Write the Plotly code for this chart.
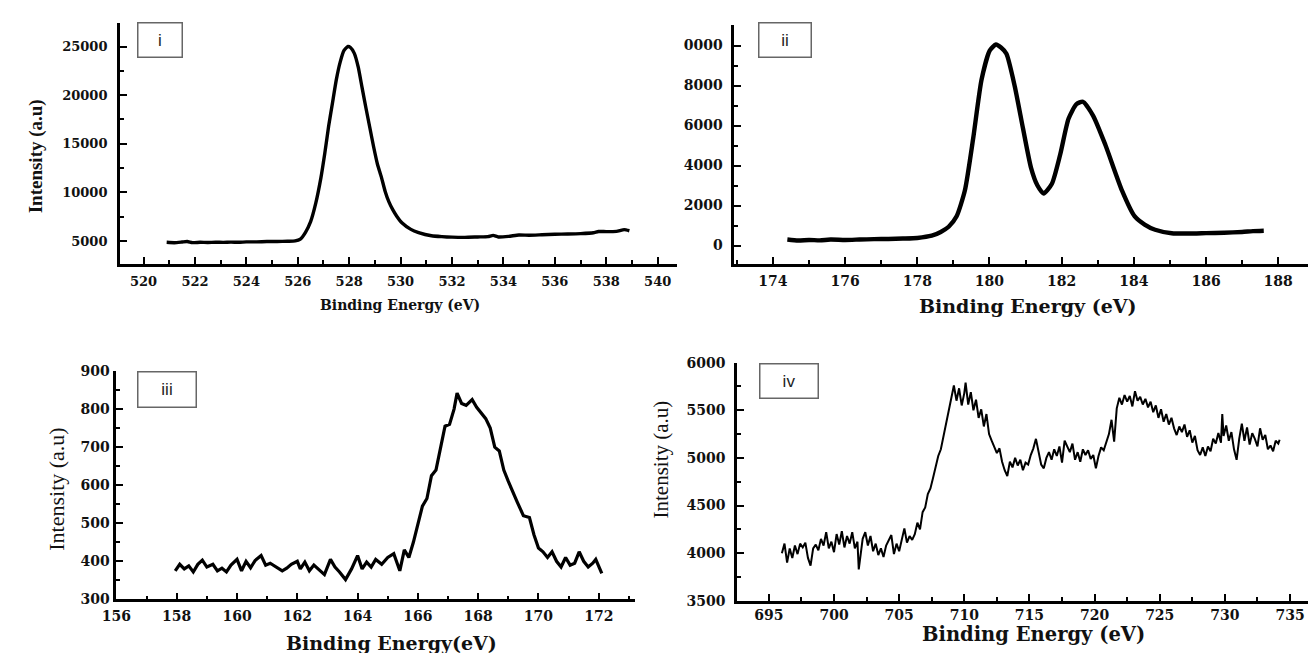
import plotly.graph_objects as go

W, H = 1316, 653
OFF = 8  # default page body margin of the written html

# ---------------- data ----------------
# Panel i : O 1s
be_i = [520.9, 521.2, 521.5, 521.7, 521.9, 522.2, 522.5, 522.8, 523.1, 523.4, 523.7, 524.0,
        524.4, 524.8, 525.2, 525.6, 525.9, 526.1, 526.3, 526.5, 526.7, 526.9, 527.05, 527.2,
        527.35, 527.5, 527.65, 527.8, 527.95, 528.05, 528.2, 528.35, 528.5, 528.65, 528.8,
        528.95, 529.1, 529.25, 529.4, 529.55, 529.7, 529.85, 530.05, 530.4, 530.7, 531.2,
        531.6, 532.0, 532.5, 533.0, 533.4, 533.6, 533.8, 534.2, 534.6, 535.0, 535.5, 536.0,
        536.5, 537.0, 537.5, 537.7, 538.0, 538.4, 538.7, 538.9]
int_i = [4870, 4830, 4900, 4950, 4840, 4870, 4850, 4880, 4860, 4890, 4870, 4910,
         4920, 4950, 4960, 4980, 5010, 5200, 5900, 7000, 8900, 11500, 14000, 16800,
         19200, 21600, 23400, 24600, 25000, 24900, 24300, 22900, 20800, 18700, 16700,
         14700, 12900, 11600, 10100, 9000, 8200, 7550, 6880, 6200, 5870, 5540,
         5450, 5400, 5380, 5420, 5450, 5580, 5420, 5480, 5620, 5600, 5650, 5700,
         5720, 5760, 5850, 5980, 5970, 6000, 6170, 6060]

# Panel ii : Ca 2p
be_ii = [174.4, 174.7, 175.0, 175.3, 175.6, 176.0, 176.4, 176.8, 177.2, 177.6, 178.0, 178.4,
         178.65, 178.87, 179.09, 179.32, 179.55, 179.78, 180.01, 180.18, 180.32, 180.47,
         180.7, 180.93, 181.15, 181.33, 181.5, 181.73, 181.96, 182.19, 182.41, 182.59,
         182.87, 183.21, 183.67, 184.02, 184.3, 184.59, 185.05, 185.5, 186.0, 186.5,
         187.0, 187.3, 187.6]
int_ii = [300, 250, 280, 260, 300, 280, 300, 320, 330, 350, 380, 490,
          680, 940, 1460, 2760, 5370, 8290, 9760, 10050, 9900, 9590,
          7970, 5850, 3900, 3000, 2600, 3090, 4550, 6340, 7070, 7190,
          6500, 5040, 2760, 1470, 1050, 790, 615, 600, 620, 640,
          680, 720, 740]

# Panel iii : S 2p
be_iii = [157.95, 158.1, 158.25, 158.4, 158.55, 158.7, 158.85, 159.0, 159.2, 159.35, 159.5,
          159.65, 159.8, 160.0, 160.15, 160.3, 160.45, 160.6, 160.8, 160.95, 161.1, 161.3,
          161.5, 161.65, 161.8, 162.0, 162.1, 162.25, 162.4, 162.55, 162.7, 162.9, 163.1,
          163.25, 163.4, 163.6, 163.8, 164.0, 164.15, 164.3, 164.45, 164.6, 164.8, 165.0,
          165.2, 165.4, 165.55, 165.7, 165.85, 166.0, 166.15, 166.3, 166.45, 166.6, 166.75,
          166.9, 167.05, 167.2, 167.3, 167.45, 167.6, 167.8, 167.95, 168.1, 168.25, 168.4,
          168.55, 168.7, 168.85, 169.0, 169.15, 169.3, 169.5, 169.7, 169.85, 170.0, 170.15,
          170.3, 170.45, 170.6, 170.75, 170.9, 171.05, 171.2, 171.35, 171.5, 171.65, 171.8,
          171.9, 172.0, 172.1]
int_iii = [375, 392, 380, 388, 372, 392, 403, 385, 392, 375, 382,
           372, 390, 405, 375, 400, 383, 402, 415, 390, 395, 385,
           375, 382, 392, 400, 380, 398, 375, 390, 380, 365, 405,
           385, 372, 352, 380, 415, 380, 398, 385, 405, 392, 410,
           420, 375, 430, 410, 450, 495, 545, 565, 625, 640, 700,
           755, 760, 800, 842, 815, 810, 825, 805, 790, 775, 750,
           700, 690, 640, 610, 580, 555, 520, 515, 470, 435, 425,
           410, 425, 400, 385, 410, 390, 395, 425, 400, 385, 395,
           405, 385, 368]

# Panel iv : Fe 2p
be_iv = [696.0, 696.2, 696.4, 696.6, 696.8, 697.0, 697.2, 697.4, 697.6, 697.8, 698.0, 698.2,
         698.4, 698.6, 698.8, 699.0, 699.2, 699.4, 699.6, 699.8, 700.0, 700.2, 700.4, 700.6,
         700.8, 701.0, 701.2, 701.4, 701.6, 701.8, 701.9, 702.0, 702.2, 702.4, 702.6, 702.8,
         703.0, 703.2, 703.4, 703.6, 703.8, 704.0, 704.2, 704.4, 704.6, 704.8, 705.0, 705.2,
         705.4, 705.6, 705.8, 706.0, 706.2, 706.4, 706.6, 706.8, 707.0, 707.2, 707.4, 707.6,
         707.8, 708.0, 708.2, 708.4, 708.6, 708.8, 709.0, 709.2, 709.4, 709.6, 709.8, 710.0,
         710.1, 710.3, 710.5, 710.7, 710.9, 711.1, 711.3, 711.5, 711.7, 711.9, 712.1, 712.3,
         712.5, 712.7, 712.9, 713.1, 713.3, 713.5, 713.7, 713.9, 714.1, 714.3, 714.5, 714.7,
         714.9, 715.1, 715.3, 715.5, 715.7, 715.9, 716.1, 716.3, 716.5, 716.7, 716.9, 717.1,
         717.3, 717.5, 717.7, 717.9, 718.1, 718.3, 718.5, 718.7, 718.9, 719.1, 719.3, 719.5,
         719.7, 719.9, 720.1, 720.3, 720.5, 720.7, 720.9, 721.1, 721.3, 721.5, 721.7, 721.9,
         722.1, 722.3, 722.5, 722.7, 722.9, 723.1, 723.3, 723.5, 723.7, 723.9, 724.1, 724.3,
         724.5, 724.7, 724.9, 725.1, 725.3, 725.5, 725.7, 725.9, 726.1, 726.3, 726.5, 726.7,
         726.9, 727.1, 727.3, 727.5, 727.7, 727.9, 728.1, 728.3, 728.5, 728.7, 728.9, 729.1,
         729.3, 729.5, 729.7, 729.8, 729.9, 730.1, 730.3, 730.5, 730.7, 730.9, 731.1, 731.3,
         731.5, 731.7, 731.9, 732.1, 732.3, 732.5, 732.7, 732.9, 733.1, 733.3, 733.5, 733.7,
         733.9, 734.1, 734.2]
int_iv = [4000, 4100, 3900, 4050, 3950, 4080, 3990, 4100, 4060, 4110, 3950, 3870,
          4050, 4090, 4030, 4150, 4080, 4220, 4050, 4120, 4010, 4200, 4090, 4230,
          4060, 4180, 4100, 4220, 4050, 4120, 3830, 3950, 4150, 4220, 4080, 4180,
          4020, 4100, 3980, 4050, 3960, 4080, 4130, 4190, 3990, 4100, 4020, 4150,
          4260, 4110, 4180, 4140, 4200, 4320, 4250, 4430, 4480, 4620, 4680, 4790,
          4900, 5020, 5090, 5230, 5330, 5480, 5620, 5760, 5600, 5730, 5550, 5680,
          5790, 5560, 5690, 5500, 5610, 5420, 5510, 5330, 5460, 5250, 5180, 5120,
          5050, 5100, 4960, 4870, 4810, 4960, 4900, 5000, 4920, 4980, 4870, 4950,
          4930, 5030, 5100, 5200, 5080, 4930, 4890, 5000, 5060, 4980, 5090, 5020,
          5120, 4950, 5180, 5110, 5060, 5150, 4980, 5060, 4960, 5090, 5030, 5080,
          4990, 5030, 4890, 5020, 5110, 5080, 5160, 5250, 5400, 5170, 5520, 5630,
          5560, 5660, 5590, 5650, 5540, 5700, 5600, 5640, 5560, 5620, 5530, 5590,
          5480, 5550, 5420, 5510, 5380, 5460, 5350, 5420, 5310, 5240, 5330, 5270,
          5350, 5220, 5290, 5160, 5230, 5080, 5030, 5110, 5020, 5120, 5070, 5200,
          5150, 5260, 5160, 5460, 5230, 5340, 5180, 5270, 5090, 4980, 5200, 5360,
          5180, 5320, 5140, 5260, 5200, 5120, 5310, 5190, 5240, 5090, 5130, 5070,
          5180, 5150, 5190]

# tick definitions
xt_i = [520, 522, 524, 526, 528, 530, 532, 534, 536, 538, 540]
yt_i = [5000, 10000, 15000, 20000, 25000]
xt_ii = [174, 176, 178, 180, 182, 184, 186, 188]
yt_ii = [0, 2000, 4000, 6000, 8000, 10000]
yl_ii = ["0", "2000", "4000", "6000", "8000", "0000"]
xt_iii = [156, 158, 160, 162, 164, 166, 168, 170, 172]
yt_iii = [300, 400, 500, 600, 700, 800, 900]
xt_iv = [695, 700, 705, 710, 715, 720, 725, 730, 735]
yt_iv = [3500, 4000, 4500, 5000, 5500, 6000]

panel_labels = ["i", "ii", "iii", "iv"]
x_title = ["Binding Energy (eV)", "Binding Energy (eV)", "Binding Energy(eV)", "Binding Energy (eV)"]
y_title = "Intensity (a.u)"

# ---------------- layout helpers (page pixels -> paper) ----------------
def px_x(p):
    return (p - OFF) / W

def px_y(p):
    return 1 - (p - OFF) / H

SERIF_W = "DejaVu Serif"
SERIF_T = "Liberation Serif"

fig = go.Figure()
fig.add_trace(go.Scatter(x=be_i, y=int_i, mode="lines", line=dict(color="black", width=3.4, shape="spline", smoothing=0.5),
                         xaxis="x", yaxis="y", showlegend=False))
fig.add_trace(go.Scatter(x=be_ii, y=int_ii, mode="lines", line=dict(color="black", width=4.4, shape="spline", smoothing=0.6),
                         xaxis="x2", yaxis="y2", showlegend=False))
fig.add_trace(go.Scatter(x=be_iii, y=int_iii, mode="lines", line=dict(color="black", width=3.2),
                         xaxis="x3", yaxis="y3", showlegend=False))
fig.add_trace(go.Scatter(x=be_iv, y=int_iv, mode="lines", line=dict(color="black", width=2.0),
                         xaxis="x4", yaxis="y4", showlegend=False))


def xaxis(dom, rng, tv, mdt, m0, anchor, fs, standoff):
    return dict(domain=[px_x(dom[0]), px_x(dom[1])], range=rng, anchor=anchor,
                tickmode="array", tickvals=tv, ticktext=[str(v) for v in tv],
                showline=True, linecolor="black", linewidth=2.6, mirror=False,
                ticks="inside", ticklen=7, tickwidth=2.2, tickcolor="black",
                minor=dict(ticks="inside", ticklen=4, tickwidth=2, tickcolor="black", dtick=mdt, tick0=m0,
                           showgrid=False),
                showgrid=False, zeroline=False, fixedrange=True,
                tickfont=dict(family=SERIF_W, size=fs, color="#111", weight="bold"),
                ticklabelstandoff=standoff)


def yaxis(dom, rng, tv, tl, mdt, m0, anchor, fs, standoff):
    return dict(domain=[px_y(dom[1]), px_y(dom[0])], range=rng, anchor=anchor,
                tickmode="array", tickvals=tv, ticktext=tl,
                showline=True, linecolor="black", linewidth=2.6, mirror=False,
                ticks="inside", ticklen=7, tickwidth=2.2, tickcolor="black",
                minor=dict(ticks="inside", ticklen=4, tickwidth=2, tickcolor="black", dtick=mdt, tick0=m0,
                           showgrid=False),
                showgrid=False, zeroline=False, fixedrange=True,
                tickfont=dict(family=SERIF_W, size=fs, color="#111", weight="bold"),
                ticklabelstandoff=standoff)


fig.update_layout(
    width=W, height=H,
    margin=dict(l=0, r=0, t=0, b=0),
    paper_bgcolor="white", plot_bgcolor="white",
    xaxis=xaxis((106, 670), [519.08, 540.77], xt_i, 1, 519, "y", 13, 4),
    yaxis=yaxis((15, 262), [2663, 27437], yt_i, [str(v) for v in yt_i], 2500, 0, "x", 13, 7),
    xaxis2=xaxis((727.5, 1316), [172.93, 189.05], xt_ii, 1, 173, "y2", 14, 3),
    yaxis2=yaxis((17, 262), [-912, 11039], yt_ii, yl_ii, 1000, 0, "x2", 14, 6),
    xaxis3=xaxis((102.5, 627), [156, 173.2], xt_iii, 1, 157, "y3", 14, 2),
    yaxis3=yaxis((372, 606), [300, 900], yt_iii, [str(v) for v in yt_iii], 50, 0, "x3", 14, 1),
    xaxis4=xaxis((730.3, 1316), [692.56, 737.0], xt_iv, 2.5, 692.5, "y4", 14, 0),
    yaxis4=yaxis((363.3, 607.5), [3500, 6000], yt_iv, [str(v) for v in yt_iv], 250, 0, "x4", 14, 6),
)

annots = []
# x-axis titles
for (cx, cy, fs, txt) in [(389, 304.5, 14, x_title[0]), (1024, 305, 19, x_title[1]),
                           (381, 650.5, 19, x_title[2]), (1030, 642.5, 19.5, x_title[3])]:
    annots.append(dict(x=px_x(cx), y=px_y(cy), xref="paper", yref="paper", text=txt, showarrow=False,
                       xanchor="center", yanchor="middle", borderpad=0,
                       font=dict(family=SERIF_W, size=fs, color="#111", weight="bold")))
# y-axis titles
for (cx, cy, fs, wt) in [(22, 152, 19, "bold"), (41, 493, 22, "normal"), (653, 463, 21, "normal")]:
    annots.append(dict(x=px_x(cx), y=px_y(cy), xref="paper", yref="paper", text=y_title, showarrow=False,
                       textangle=-90, xanchor="center", yanchor="middle",
                       font=dict(family=SERIF_T, size=fs, color="#111", weight=wt)))
# panel label boxes
for lab, (cx, cy, bw, bh) in zip(panel_labels, [(146.8, 32.5, 47, 37), (779.2, 32.5, 55, 37),
                                                (153.6, 391, 61, 38), (782.4, 382, 61, 37)]):
    annots.append(dict(x=px_x(cx), y=px_y(cy), xref="paper", yref="paper", text=lab, showarrow=False,
                       xanchor="center", yanchor="middle", width=bw - 4, height=bh - 4,
                       bordercolor="#666", borderwidth=1.5, borderpad=0, bgcolor="white",
                       font=dict(family="Liberation Sans", size=17, color="#222")))
fig.update_layout(annotations=annots)

fig.write_html("out.html")
